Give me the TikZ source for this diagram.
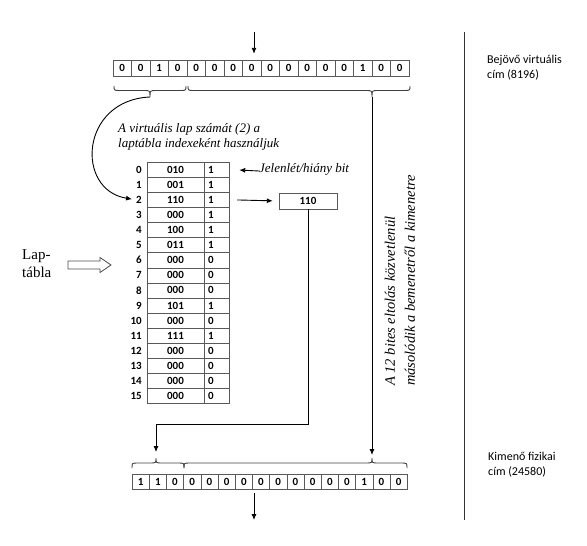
\documentclass[tikz,border=0pt]{standalone}
\usepackage{fontspec}
\setmainfont{Carlito}
\newfontfamily\tnr{Liberation Serif}
\usetikzlibrary{arrows.meta}

\begin{document}
\begin{tikzpicture}[
  x=1pt, y=-1pt,
  vbit/.style={draw=black!65, minimum width=18.5, minimum height=16, inner sep=0, font=\bfseries\fontsize{11}{13}\selectfont},
  pbit/.style={vbit, minimum width=17.2, minimum height=15.5},
  idx/.style={anchor=east, inner sep=0, font=\bfseries\fontsize{11}{13}\selectfont},
  ptcell/.style={draw=black!65, minimum width=57, minimum height=15.1, inner sep=0, font=\bfseries\fontsize{11}{13}\selectfont},
  ptbit/.style={draw=black!65, text width=17, inner xsep=4, inner ysep=0, minimum height=15.1, align=left, font=\bfseries\fontsize{11}{13}\selectfont},
  remark/.style={font=\tnr\itshape\fontsize{13}{15}\selectfont, align=left, inner sep=0},
  sidelab/.style={font=\fontsize{12}{15}\selectfont, align=left, anchor=north west, inner sep=0},
  arr/.style={-{Latex[length=6pt,width=5pt]}, line width=0.9pt},
  brc/.style={line width=0.9pt, black!75},
]
\useasboundingbox (0,0) rectangle (587,546);

% incoming virtual address
\coordinate (vin) at (254,32);
\foreach \b [count=\i from 0] in {0,0,1,0,0,0,0,0,0,0,0,0,0,1,0,0}
  \node[vbit] (v\i) at (122.25+18.5*\i, 68) {\b};
\draw[arr, shorten >=6pt] (vin) -- (vin |- v7.north);

\draw[brc] (114,86) .. controls (114,90.5) .. (120,90.5) -- (144,90.5) .. controls (150,90.5) .. (150,97)
  .. controls (150,90.5) .. (156,90.5) -- (180,90.5) .. controls (186,90.5) .. (186,86);
\draw[brc] (188,86) .. controls (188,90.5) .. (194,90.5) -- (366,90.5) .. controls (372,90.5) .. (372,97)
  .. controls (372,90.5) .. (378,90.5) -- (404,90.5) .. controls (410,90.5) .. (410,86);
\coordinate (ltip) at (150,97);
\coordinate (rtip) at (372,97);

\node[remark, anchor=north west] (idxnote) at (118,123) {A virtuális lap számát (2) a\\laptábla indexeként használjuk};

% page table
\foreach \fr/\pb [count=\i from 0] in {010/1,001/1,110/1,000/1,100/1,011/1,000/0,000/0,000/0,101/1,000/0,111/1,000/0,000/0,000/0,000/0} {
  \node[idx] (n\i) at (142, 169.55+15.1*\i) {\i};
  \node[ptcell] (f\i) at (175.5, 169.55+15.1*\i) {\fr};
  \node[ptbit] (b\i) at (216.5, 169.55+15.1*\i) {\pb};
}
\draw[arr, shorten >=4pt] (ltip) .. controls (80,100) and (75,190) .. (n2.west);

\node[remark, anchor=west] (jel) at (259,169) {Jelenlét/hiány bit};
\draw[arr, shorten >=10pt] ([yshift=-2pt]jel.west) -- (b0.east);

\node[vbit, minimum width=58] (box) at (308,201) {110};
\draw[arr, shorten <=8pt, shorten >=6pt] (b2.east) -- (box.west);

\node[font=\tnr\fontsize{15}{18}\selectfont, align=left, anchor=west, inner sep=0] (lap) at (22,264) {Lap-\\tábla};
\draw[line width=0.8pt, black!70] (68,261) -- (100,261) -- (100,257.5) -- (111,265) -- (100,272.5) -- (100,269) -- (68,269) -- cycle;

\node[remark, font=\tnr\itshape\fontsize{14.5}{20}\selectfont, rotate=90, anchor=west] (shift) at (400,386) {A 12 bites eltolás közvetlenül\\másolódik a bemenetről a kimenetre};

% outgoing physical address
\coordinate (lbot) at (156,458);
\coordinate (rbot) at (372,458);
\draw[brc] (132,468) .. controls (132,463) .. (138,463) -- (150,463) .. controls (156,463) .. (156,458)
  .. controls (156,463) .. (162,463) -- (178,463) .. controls (184,463) .. (184,468);
\draw[brc] (184,468) .. controls (184,463) .. (190,463) -- (366,463) .. controls (372,463) .. (372,458)
  .. controls (372,463) .. (378,463) -- (401,463) .. controls (407,463) .. (407,468);
\foreach \b [count=\i from 0] in {1,1,0,0,0,0,0,0,0,0,0,0,0,1,0,0}
  \node[pbit] (p\i) at (140.6+17.2*\i, 481.5) {\b};
\draw[arr, shorten >=6pt] (box.south) -- ++(0,215) -| (lbot);
\draw[arr, shorten >=3pt] (rtip) -- (rbot);
\coordinate (pout) at (254,520);
\draw[arr, shorten <=4pt] (pout |- p7.south) -- (pout);

\draw[line width=1pt, black!80] (464,32) -- (464,520);
\node[sidelab] (vlab) at (487,55) {Bejövő virtuális\\cím (8196)};
\node[sidelab] (plab) at (488,452) {Kimenő fizikai\\cím (24580)};
\end{tikzpicture}
\end{document}
